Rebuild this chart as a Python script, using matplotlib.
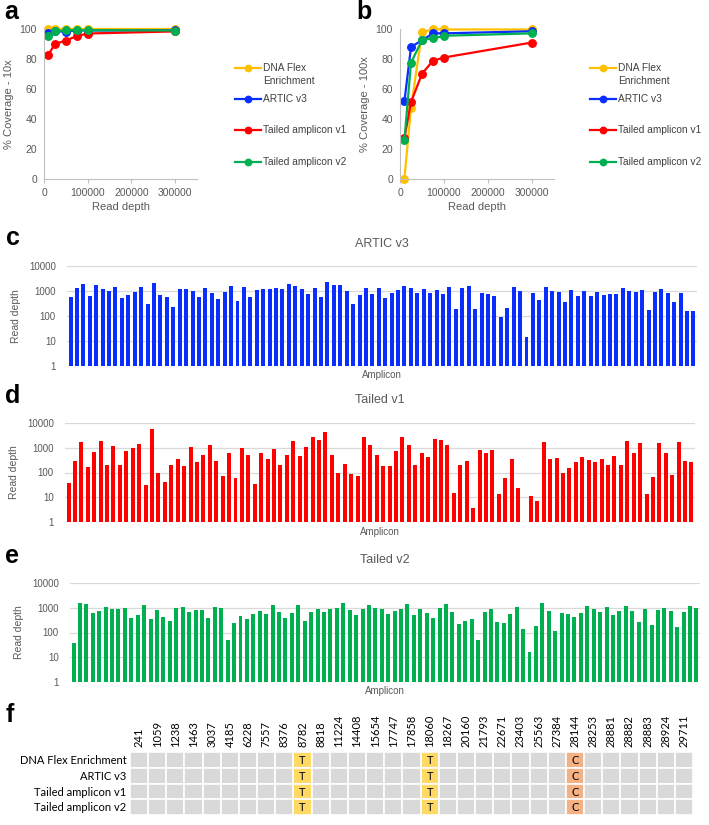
import numpy as np
import matplotlib
matplotlib.use("Agg")
import matplotlib.pyplot as plt
from matplotlib.lines import Line2D
from matplotlib.patches import Rectangle

plt.rcParams["font.family"] = ["Liberation Sans", "DejaVu Sans"]

# ===========================================
# DATA
# ===========================================
read_depth = [10000, 25000, 50000, 75000, 100000, 300000]
methods = ["DNA Flex\nEnrichment", "ARTIC v3", "Tailed amplicon v1", "Tailed amplicon v2"]
method_colors = ["#FFC000", "#0A2EFF", "#FF0000", "#00B050"]

cov10_flex = [99.7, 99.7, 99.7, 99.7, 99.7, 99.7]
cov10_artic = [97.3, 98.4, 98.3, 99.0, 99.0, 99.1]
cov10_v1 = [82.9, 90.0, 92.3, 95.3, 97.0, 98.4]
cov10_v2 = [95.4, 98.4, 99.2, 99.2, 99.2, 99.0]

cov100_flex = [0.3, 47.6, 98.0, 99.7, 99.7, 99.7]
cov100_artic = [51.7, 88.0, 92.5, 97.1, 97.1, 98.5]
cov100_v1 = [27.2, 51.2, 70.2, 78.8, 81.0, 91.0]
cov100_v2 = [25.8, 77.5, 92.6, 93.8, 95.5, 97.1]

artic_v3 = [590, 1360, 1850, 650, 1690, 1200, 1030, 1490, 525, 710,
            940, 1490, 300, 2020, 690, 575, 220, 1200, 1240, 1030,
            575, 1320, 860, 490, 940, 1580, 410, 1490, 590, 1070,
            1240, 1200, 1320, 1200, 1970, 1580, 1200, 780, 1360, 590,
            2300, 1750, 1750, 1000, 310, 690, 1320, 750, 1330, 510,
            860, 1100, 1640, 1320, 860, 1200, 860, 1100, 790, 1480,
            190, 1280, 1530, 195, 860, 740, 620, 94, 205, 1400,
            1000, 14.5, 860, 430, 1480, 1000, 890, 380, 1060, 620,
            1000, 620, 910, 670, 790, 790, 1360, 970, 910, 1100,
            170, 940, 1160, 830, 380, 810, 160, 160]

tailed_v1 = [37, 300, 1650, 160, 650, 1800, 200, 1150, 200, 750,
             1000, 1400, 31, 5600, 95, 40, 200, 340, 175, 1050,
             260, 500, 1250, 290, 70, 600, 58, 950, 530, 33,
             620, 350, 900, 195, 500, 1850, 470, 1050, 2800, 2000,
             4400, 500, 100, 230, 85, 70, 2700, 1250, 510, 185,
             180, 730, 2700, 1280, 210, 620, 430, 2250, 2050, 1350,
             15.5, 200, 280, 3.8, 780, 590, 780, 13, 59, 360,
             23, np.nan, 11.7, 6.8, 1650, 360, 400, 100, 155, 265,
             405, 310, 275, 360, 205, 460, 210, 1900, 640, 1500,
             13, 65, 1500, 640, 80, 1650, 290, 265]

tailed_v2 = [36, 1540, 1360, 630, 710, 1060, 880, 860, 940, 400,
             520, 1240, 340, 780, 410, 285, 940, 1030, 650, 800,
             800, 375, 1100, 970, 48, 240, 470, 360, 540, 760,
             540, 1240, 650, 375, 600, 1320, 300, 650, 880, 670,
             880, 970, 1540, 800, 520, 880, 1330, 940, 860, 540,
             730, 860, 1450, 510, 860, 590, 370, 1000, 1360, 650,
             230, 285, 350, 48, 690, 860, 260, 250, 570, 1030,
             140, 16, 185, 1500, 760, 120, 610, 560, 410, 590,
             1130, 910, 650, 1030, 520, 760, 1200, 710, 260, 910,
             200, 780, 1000, 760, 160, 670, 1200, 940]

positions = ["241", "1059", "1238", "1463", "3037", "4185", "6228", "7557",
             "8376", "8782", "8818", "11224", "14408", "15654", "17747",
             "17858", "18060", "18267", "20160", "21793", "22671", "23403",
             "25563", "27384", "28144", "28253", "28881", "28882", "28883",
             "28924", "29711"]
samples = ["DNA Flex Enrichment", "ARTIC v3", "Tailed amplicon v1", "Tailed amplicon v2"]
variants = {"8782": "T", "18060": "T", "28144": "C"}
variant_colors = {"T": "#FFD966", "C": "#F4B183"}

# ===========================================
# LAYOUT helpers (pixel boxes -> figure fractions)
# ===========================================
W, H = 709, 825
fig = plt.figure(figsize=(W / 100, H / 100), dpi=100)


def box(x0, y0, x1, y1):
    return [x0 / W, 1 - y1 / H, (x1 - x0) / W, (y1 - y0) / H]


def fx(x):
    return x / W


def fy(y):
    return 1 - y / H


GRAY_TXT = "#595959"
AXIS_GRAY = "#BFBFBF"


def panel_letter(x, y, s):
    fig.text(fx(x), fy(y), s, fontsize=18, fontweight="bold",
             ha="left", va="center", color="black")


# ---------------------------------------------------------
# a / b : coverage vs read depth
# ---------------------------------------------------------
def coverage_panel(rect, series, ylabel, leg_x):
    ax = fig.add_axes(rect)
    for vals, col in zip(series, method_colors):
        ax.plot(read_depth, vals, color=col, lw=1.6, marker="o",
                markersize=5.4, clip_on=False)
    ax.set_xlim(0, 350000)
    ax.set_ylim(0, 100)
    ax.set_xticks([0, 100000, 200000, 300000])
    ax.set_xticklabels(["0", "100000", "200000", "300000"])
    ax.set_yticks([0, 20, 40, 60, 80, 100])
    for sp in ["top", "right"]:
        ax.spines[sp].set_visible(False)
    for sp in ["left", "bottom"]:
        ax.spines[sp].set_color(AXIS_GRAY)
        ax.spines[sp].set_linewidth(0.8)
    ax.tick_params(axis="both", labelsize=7.5, colors=AXIS_GRAY,
                   labelcolor=GRAY_TXT, length=3, width=0.8)
    ax.tick_params(axis="y", length=0, pad=5)
    ax.set_xlabel("Read depth", fontsize=8, color=GRAY_TXT, labelpad=3)
    ax.set_ylabel(ylabel, fontsize=8, color=GRAY_TXT, labelpad=4)

    # legend, Excel style
    leg_y = [68, 99, 130, 162]
    for lab, col, y in zip(methods, method_colors, leg_y):
        fig.add_artist(Line2D([fx(leg_x), fx(leg_x + 26)], [fy(y), fy(y)],
                              color=col, lw=1.6, transform=fig.transFigure))
        fig.add_artist(Line2D([fx(leg_x + 13)], [fy(y)], color=col,
                              marker="o", markersize=4.6,
                              transform=fig.transFigure))
        fig.text(fx(leg_x + 28), fy(y - 5), lab, fontsize=7.3, color="#404040",
                 ha="left", va="top", linespacing=1.35)
    return ax


coverage_panel(box(44, 29, 197, 179),
               [cov10_flex, cov10_artic, cov10_v1, cov10_v2],
               "% Coverage - 10x", 235)
coverage_panel(box(400, 29, 554, 179),
               [cov100_flex, cov100_artic, cov100_v1, cov100_v2],
               "% Coverage - 100x", 590)
panel_letter(4, 12, "a")
panel_letter(356, 12, "b")


# ---------------------------------------------------------
# c / d / e : per-amplicon read depth
# ---------------------------------------------------------
def depth_panel(rect, vals, color, title, title_y, amp_y):
    ax = fig.add_axes(rect)
    x = np.arange(len(vals))
    ax.bar(x, vals, width=0.62, color=color, zorder=3)
    ax.set_yscale("log")
    ax.set_ylim(1, 10000)
    ax.set_xlim(-0.55, len(vals) - 0.45)
    ax.set_yticks([1, 10, 100, 1000, 10000])
    ax.set_yticklabels(["1", "10", "100", "1000", "10000"])
    ax.yaxis.set_minor_locator(matplotlib.ticker.NullLocator())
    ax.set_xticks([])
    ax.grid(axis="y", color="#D9D9D9", lw=0.9, zorder=0)
    for sp in ax.spines.values():
        sp.set_visible(False)
    ax.tick_params(axis="y", length=0, labelsize=7, labelcolor=GRAY_TXT, pad=8)
    ax.set_ylabel("Read depth", fontsize=7.5, color=GRAY_TXT, labelpad=6)
    pos = ax.get_position()
    xc = (pos.x0 + pos.x1) / 2
    fig.text(xc, fy(title_y), title, fontsize=9, color=GRAY_TXT,
             ha="center", va="center")
    fig.text(xc, fy(amp_y), "Amplicon", fontsize=7, color=GRAY_TXT,
             ha="center", va="center")
    return ax


depth_panel(box(67, 266, 697, 366), artic_v3, "#0A2EFF", "ARTIC v3", 244, 375)
depth_panel(box(65, 423, 695, 522), tailed_v1, "#FF0000", "Tailed v1", 400, 532)
depth_panel(box(70, 583, 700, 682), tailed_v2, "#00B050", "Tailed v2", 560, 691)
panel_letter(6, 238, "c")
panel_letter(5, 396, "d")
panel_letter(5, 556, "e")

# ---------------------------------------------------------
# f : variant table
# ---------------------------------------------------------
axf = fig.add_axes(box(130, 752, 693, 815))
ncol, nrow = len(positions), len(samples)
axf.set_xlim(0, ncol)
axf.set_ylim(nrow, 0)
axf.axis("off")
for r in range(nrow):
    for c, p in enumerate(positions):
        base = variants.get(p)
        fc = variant_colors[base] if base else "#D9D9D9"
        axf.add_patch(Rectangle((c, r), 1, 1, facecolor=fc, edgecolor="white",
                                lw=1.2))
        if base:
            axf.text(c + 0.5, r + 0.55, base, ha="center", va="center",
                     fontsize=8, family="Lato", color="black")
for r, s in enumerate(samples):
    axf.text(-0.2, r + 0.55, s, ha="right", va="center", fontsize=8,
             family="Lato", color="black")
for c, p in enumerate(positions):
    axf.text(c + 0.5, -0.3, p, ha="center", va="bottom", rotation=90,
             fontsize=8, family="Lato", color="black")
panel_letter(6, 715, "f")

fig.savefig("out.png", dpi=100)
